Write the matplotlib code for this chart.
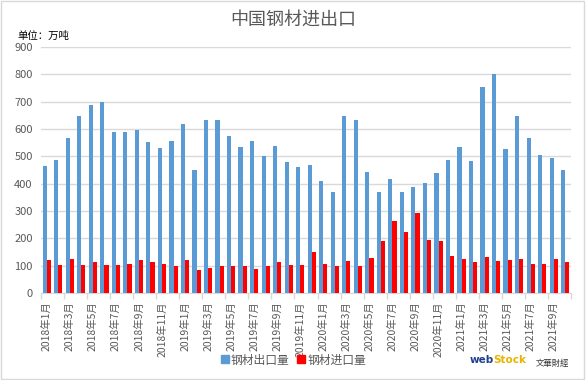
import matplotlib
matplotlib.use("Agg")
import matplotlib.pyplot as plt
from matplotlib.patches import Rectangle
from matplotlib.lines import Line2D
import numpy as np

plt.rcParams['font.family'] = ['Noto Sans CJK SC', 'DejaVu Sans']

years = [2018, 2019, 2020, 2021]
months = [f"{y}年{m}月" for y in years for m in range(1, 13)][:46]

exports = [466, 488, 567, 649, 689, 698, 590, 590, 598, 551, 532, 557,
           620, 451, 634, 634, 576, 533, 557, 502, 537, 480, 460, 470,
           411, 371, 649, 634, 441, 371, 418, 371, 387, 404, 440, 488,
           535, 484, 755, 800, 528, 649, 568, 506, 495, 451]
imports = [120, 104, 126, 104, 115, 104, 104, 107, 122, 115, 107, 100,
           120, 83, 90, 100, 100, 98, 87, 98, 112, 104, 104, 149,
           107, 98, 116, 100, 129, 189, 262, 224, 291, 195, 189, 137,
           126, 115, 133, 118, 122, 126, 107, 107, 126, 115]

series_names = ["钢材出口量", "钢材进口量"]
colors = ["#5B9BD5", "#FF0000"]
title = "中国钢材进出口"
unit = "单位：万吨"
yticks = list(range(0, 901, 100))

fig = plt.figure(figsize=(5.87, 3.80), dpi=100)
ax = fig.add_axes([41/587, 1-293/380, 530/587, 246/380])

x = np.arange(len(months))
w = 0.36
ax.bar(x - w/2, exports, width=w, color=colors[0], zorder=3)
ax.bar(x + w/2, imports, width=w, color=colors[1], zorder=3)

ax.set_xlim(-0.5, len(months) - 0.5)
ax.set_ylim(0, 900)
ax.set_yticks(yticks)
ax.set_yticklabels([str(v) for v in yticks], fontsize=8, color="#595959")
ax.tick_params(axis='y', length=0, pad=6)
ax.grid(axis='y', color="#D9D9D9", linewidth=1, zorder=0)

ax.set_xticks(x[::2])
ax.set_xticklabels(months[::2], rotation=90, fontsize=7.5, color="#595959")
ax.tick_params(axis='x', length=0, pad=6)
ax.set_xticks(np.arange(-0.5, len(months), 2), minor=True)
ax.tick_params(axis='x', which='minor', length=4, color="#D9D9D9", width=1)

for s in ['top', 'right', 'left']:
    ax.spines[s].set_visible(False)
ax.spines['bottom'].set_color("#D9D9D9")

fig.text(0.5, 1-20/380, title, ha='center', va='center', fontsize=13, color="#595959")
fig.text(17/587, 1-36/380, unit, ha='left', va='center', fontsize=7.5, color="#000000")

handles = [Line2D([], [], marker='s', linestyle='none', markersize=6,
                  markerfacecolor=c, markeredgecolor=c) for c in colors]
fig.legend(handles, series_names, loc='center', bbox_to_anchor=(293/587, 1-360/380),
           ncol=2, frameon=False, fontsize=8.5, handletextpad=0.1, columnspacing=0.6,
           labelcolor="#595959", handlelength=0.8)

# watermark
fig.text(470/587, 1-360/380, "web", ha='left', va='center', fontsize=7.5,
         fontweight='bold', color="#1F3F8F", family=['DejaVu Sans'])
fig.text(493/587, 1-360/380, "Stock", ha='left', va='center', fontsize=7.5,
         fontweight='bold', color="#E8B400", family=['DejaVu Sans'])
fig.text(536/587, 1-363/380, "文華財經", ha='left', va='center', fontsize=6, color="#333333")

fig.patches.append(Rectangle((0.002, 0.003), 0.993, 0.994, transform=fig.transFigure,
                             fill=False, edgecolor="#D9D9D9", linewidth=1))

fig.savefig("out.png", dpi=100)
